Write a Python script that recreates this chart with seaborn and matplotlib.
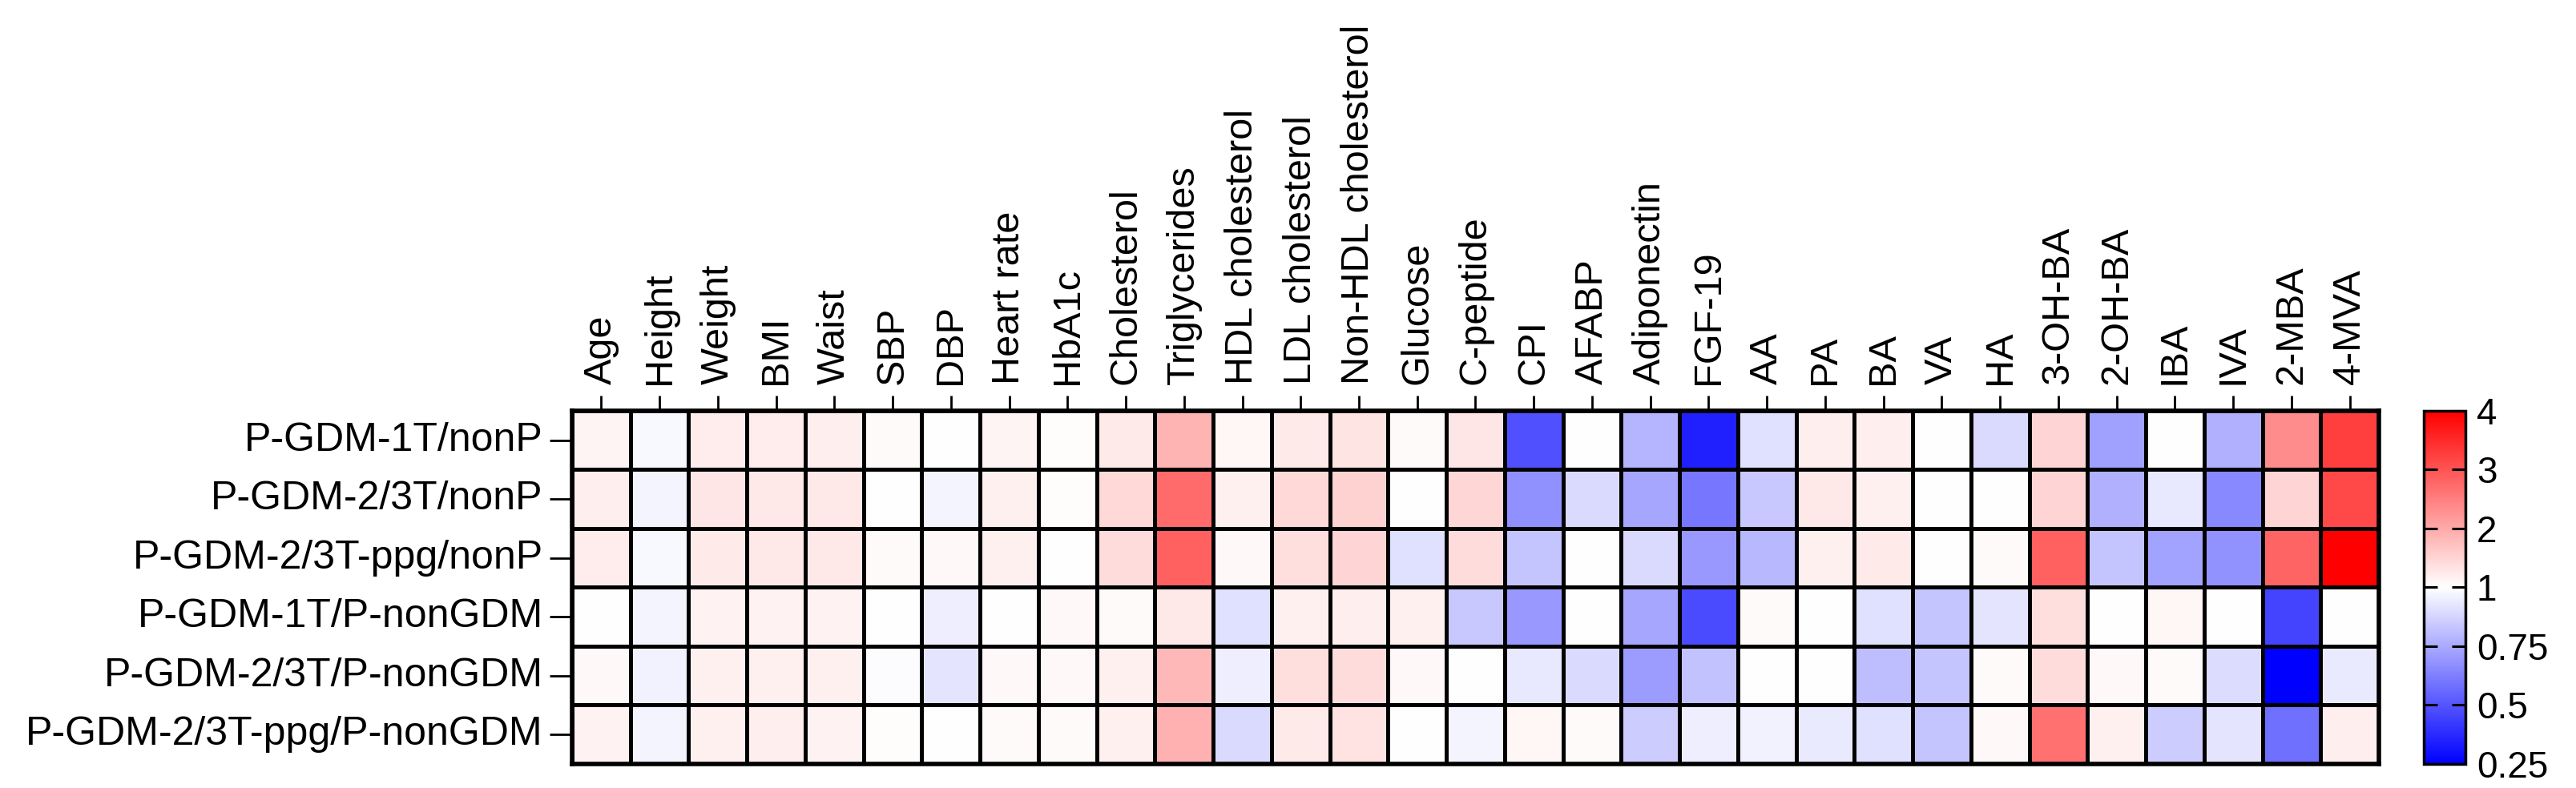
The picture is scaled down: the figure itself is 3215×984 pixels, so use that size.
"""
Fold-change heatmap: GDM groups vs. reference groups
"""

import numpy as np
import pandas as pd
import matplotlib
matplotlib.use("Agg")
import matplotlib.pyplot as plt
from matplotlib.colors import LinearSegmentedColormap, TwoSlopeNorm
import seaborn as sns

plt.rcParams['font.family'] = ['Liberation Sans', 'DejaVu Sans']

# Data (fold change)
variables = [
    "Age", "Height", "Weight", "BMI", "Waist", "SBP", "DBP", "Heart rate",
    "HbA1c", "Cholesterol", "Triglycerides", "HDL cholesterol",
    "LDL cholesterol", "Non-HDL cholesterol", "Glucose", "C-peptide", "CPI",
    "AFABP", "Adiponectin", "FGF-19", "AA", "PA", "BA", "VA", "HA",
    "3-OH-BA", "2-OH-BA", "IBA", "IVA", "2-MBA", "4-MVA",
]

comparisons = [
    "P-GDM-1T/nonP",
    "P-GDM-2/3T/nonP",
    "P-GDM-2/3T-ppg/nonP",
    "P-GDM-1T/P-nonGDM",
    "P-GDM-2/3T/P-nonGDM",
    "P-GDM-2/3T-ppg/P-nonGDM",
]

gdm1_nonp = [1.12, 0.98, 1.22, 1.22, 1.20, 1.06, 1.00, 1.12, 1.03, 1.25,
             1.88, 1.10, 1.25, 1.32, 1.06, 1.30, 0.485, 1.00, 0.78, 0.345,
             0.91, 1.20, 1.20, 1.00, 0.89, 1.50, 0.72, 1.00, 0.77, 2.35, 3.25]
gdm23_nonp = [1.20, 0.97, 1.30, 1.28, 1.28, 1.01, 0.97, 1.18, 1.03, 1.46,
              2.75, 1.18, 1.46, 1.53, 1.00, 1.48, 0.675, 0.89, 0.74, 0.60,
              0.84, 1.28, 1.18, 1.00, 1.00, 1.50, 0.77, 0.93, 0.65, 1.50, 3.15]
gdm23ppg_nonp = [1.22, 0.98, 1.25, 1.28, 1.28, 1.06, 1.08, 1.18, 1.01, 1.42,
                 2.87, 1.08, 1.38, 1.50, 0.91, 1.42, 0.83, 1.02, 0.89, 0.70,
                 0.79, 1.18, 1.25, 1.00, 1.06, 2.87, 0.83, 0.73, 0.68, 2.82, 4.00]
gdm1_pnongdm = [1.02, 0.97, 1.15, 1.15, 1.15, 1.00, 0.95, 1.00, 1.08, 1.06,
                1.28, 0.91, 1.18, 1.20, 1.18, 0.84, 0.70, 1.01, 0.74, 0.47,
                1.06, 1.00, 0.91, 0.83, 0.92, 1.38, 1.02, 1.10, 1.01, 0.45, 1.00]
gdm23_pnongdm = [1.08, 0.96, 1.18, 1.18, 1.17, 0.99, 0.92, 1.08, 1.08, 1.18,
                 1.84, 0.95, 1.38, 1.42, 1.08, 1.02, 0.93, 0.89, 0.71, 0.82,
                 1.00, 1.00, 0.81, 0.83, 1.06, 1.42, 1.08, 1.06, 0.90, 0.25, 0.94]
gdm23ppg_pnongdm = [1.15, 0.97, 1.18, 1.20, 1.15, 1.03, 1.00, 1.06, 1.06, 1.18,
                    1.93, 0.89, 1.25, 1.34, 1.00, 0.97, 1.10, 1.06, 0.85, 0.95,
                    0.96, 0.94, 0.91, 0.83, 1.08, 2.68, 1.18, 0.85, 0.92, 0.58, 1.20]

cbar_ticks = [0.25, 0.5, 0.75, 1, 2, 3, 4]
cbar_labels = ["0.25", "0.5", "0.75", "1", "2", "3", "4"]

df = pd.DataFrame(
    [gdm1_nonp, gdm23_nonp, gdm23ppg_nonp,
     gdm1_pnongdm, gdm23_pnongdm, gdm23ppg_pnongdm],
    index=comparisons, columns=variables,
)

cmap = LinearSegmentedColormap.from_list("bwr_fc", ["#0000FF", "#FFFFFF", "#FF0000"])
norm = TwoSlopeNorm(vmin=0.25, vcenter=1.0, vmax=4.0)

fig = plt.figure(figsize=(32.16, 9.84), dpi=100)
ax = fig.add_axes([0.222, 0.0305, 0.7012, 0.4482])
cax = fig.add_axes([0.9406, 0.0305, 0.0162, 0.4482])

sns.heatmap(
    df, ax=ax, cmap=cmap, norm=norm,
    linewidths=2.2, linecolor="black",
    cbar=True, cbar_ax=cax, cbar_kws={"ticks": cbar_ticks},
)

# Heatmap axes styling
for spine in ax.spines.values():
    spine.set_visible(True)
    spine.set_linewidth(4)
    spine.set_color("black")

ax.xaxis.tick_top()
ax.set_xticklabels(variables, rotation=90, fontsize=35, ha="center", va="bottom")
ax.set_yticklabels(comparisons, rotation=0, fontsize=36)
ax.tick_params(axis="x", top=True, bottom=False, length=14, width=2, pad=10)
ax.tick_params(axis="y", left=True, length=20, width=2, pad=6)
ax.set_xlabel("")
ax.set_ylabel("")

# Colorbar styling
cb = ax.collections[0].colorbar
cb.outline.set_linewidth(2.5)
cb.outline.set_edgecolor("black")
cb.set_ticks(cbar_ticks)
cb.set_ticklabels(cbar_labels)
cax.tick_params(axis="y", direction="in", left=True, right=True,
                length=12, width=2.2, labelsize=33, pad=10)

fig.savefig("out.png", dpi=100)
